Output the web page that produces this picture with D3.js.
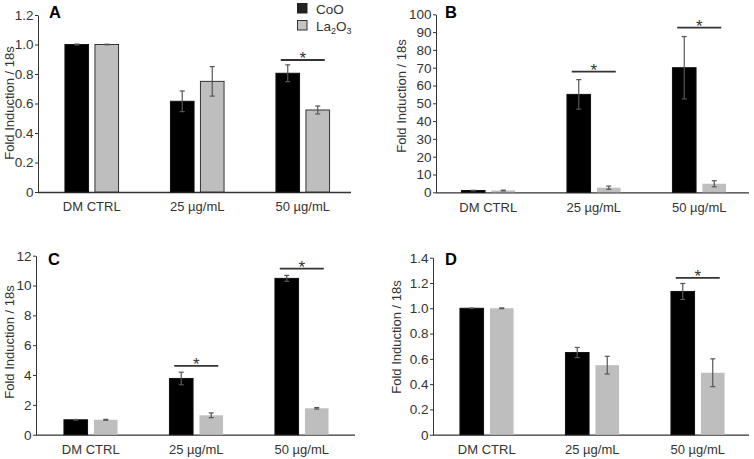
<!DOCTYPE html>
<html>
<head>
<meta charset="utf-8">
<script src="https://cdn.jsdelivr.net/npm/d3@7"></script>
<style>
  html, body { margin: 0; padding: 0; background: #fff; }
  svg { display: block; font-family: "Liberation Sans", Arial, sans-serif; }
</style>
</head>
<body>
<svg id="chart" width="754" height="459"></svg>
<script>
// ---------- data ----------
const categories = ["DM CTRL", "25 µg/mL", "50 µg/mL"];
const seriesNames = ["CoO", "La2O3"];

const A_CoO = [1.0, 0.615, 0.805];
const A_CoO_err = [0.003, 0.07, 0.057];
const A_La = [1.0, 0.75, 0.556];
const A_La_err = [0.002, 0.10, 0.027];
const A_ticks = [0, 0.2, 0.4, 0.6, 0.8, 1.0, 1.2];
const A_sig = [{ group: 2, y: 0.895 }];

const B_CoO = [1.0, 55, 70];
const B_CoO_err = [0.15, 8.3, 17.5];
const B_La = [1.0, 2.6, 4.8];
const B_La_err = [0.2, 0.9, 1.7];
const B_ticks = [0, 10, 20, 30, 40, 50, 60, 70, 80, 90, 100];
const B_sig = [{ group: 1, y: 67.8 }, { group: 2, y: 92.5 }];

const C_CoO = [1.0, 3.77, 10.48];
const C_CoO_err = [0.02, 0.42, 0.2];
const C_La = [1.0, 1.3, 1.77];
const C_La_err = [0.03, 0.16, 0.05];
const C_ticks = [0, 2, 4, 6, 8, 10, 12];
const C_sig = [{ group: 1, y: 4.62 }, { group: 2, y: 11.13 }];

const D_CoO = [1.0, 0.65, 1.133];
const D_CoO_err = [0.002, 0.04, 0.063];
const D_La = [1.0, 0.55, 0.49];
const D_La_err = [0.003, 0.07, 0.11];
const D_ticks = [0, 0.2, 0.4, 0.6, 0.8, 1.0, 1.2, 1.4];
const D_sig = [{ group: 2, y: 1.24 }];

// ---------- layout ----------
const panels = [
  { letter: "A", co: A_CoO, coErr: A_CoO_err, la: A_La, laErr: A_La_err, ticks: A_ticks, sig: A_sig,
    fmt: d => d === 0 ? "0" : d.toFixed(1), ax: 38, axEnd: 351, bandStart: 39, y0: 192, y1: 15,
    laStroke: true, labelX: 14, labelY: 103, letterX: 49, letterY: 18 },
  { letter: "B", co: B_CoO, coErr: B_CoO_err, la: B_La, laErr: B_La_err, ticks: B_ticks, sig: B_sig,
    fmt: d => String(d), ax: 436, axEnd: 749, bandStart: 435.5, y0: 192.3, y1: 14.3,
    laStroke: false, labelX: 406, labelY: 96, letterX: 445, letterY: 18 },
  { letter: "C", co: C_CoO, coErr: C_CoO_err, la: C_La, laErr: C_La_err, ticks: C_ticks, sig: C_sig,
    fmt: d => String(d), ax: 36, axEnd: 355, bandStart: 38, y0: 434.7, y1: 255.7,
    laStroke: false, labelX: 14, labelY: 342, letterX: 48, letterY: 265 },
  { letter: "D", co: D_CoO, coErr: D_CoO_err, la: D_La, laErr: D_La_err, ticks: D_ticks, sig: D_sig,
    fmt: d => d === 0 ? "0" : d.toFixed(1), ax: 433, axEnd: 749, bandStart: 434, y0: 434.7, y1: 257.7,
    laStroke: false, labelX: 401, labelY: 337, letterX: 445, letterY: 265 }
];

const svg = d3.select("#chart");
const textCol = "#333";
const coFill = "#000";
const laFill = "#bebebe";
const errCol = "#555";
const step = 105.5;
const fontFam = "'Liberation Sans', Arial, sans-serif";

panels.forEach(p => {
  const g = svg.append("g");
  const y = d3.scaleLinear().domain([0, d3.max(p.ticks)]).range([p.y0, p.y1]);
  const x = d3.scaleBand().domain(categories).range([p.bandStart, p.bandStart + step * 3]).padding(0);
  const inner = d3.scaleBand().domain(seriesNames).range([-26.8, 26.8]).paddingInner(0.2133).paddingOuter(0);

  // y axis
  const yAxis = d3.axisLeft(y).tickValues(p.ticks).tickFormat(p.fmt).tickSize(3).tickSizeOuter(0).tickPadding(1.5);
  const ya = g.append("g").attr("transform", `translate(${p.ax},0)`).call(yAxis);
  ya.select(".domain").attr("stroke", textCol).attr("stroke-width", 1);
  ya.selectAll(".tick line").attr("stroke", textCol);
  ya.selectAll(".tick text").attr("fill", textCol).style("font-size", "13.5px").style("font-family", fontFam);

  // x axis (no ticks)
  const xAxis = d3.axisBottom(x).tickSize(0).tickSizeOuter(0).tickPadding(10);
  const xa = g.append("g").attr("transform", `translate(0,${p.y0})`).call(xAxis);
  xa.select(".domain").attr("d", `M${p.ax},0.5H${p.axEnd}`).attr("stroke", textCol).attr("stroke-width", 1.3);
  xa.selectAll(".tick text").attr("fill", textCol).style("font-size", "13px")
    .style("font-family", fontFam).attr("dy", "0.71em");

  // bars
  const rows = [];
  categories.forEach((c, i) => {
    rows.push({ cat: c, s: "CoO", v: p.co[i], e: p.coErr[i] });
    rows.push({ cat: c, s: "La2O3", v: p.la[i], e: p.laErr[i] });
  });
  const bx = d => x(d.cat) + x.bandwidth() / 2 + inner(d.s);
  g.selectAll("rect.bar").data(rows).enter().append("rect")
    .attr("class", "bar")
    .attr("x", d => bx(d))
    .attr("width", inner.bandwidth())
    .attr("y", d => y(d.v))
    .attr("height", d => p.y0 - y(d.v))
    .attr("fill", d => d.s === "CoO" ? coFill : laFill)
    .attr("stroke", d => d.s === "CoO" ? "#111" : (p.laStroke ? "#333" : "none"))
    .attr("stroke-width", 1);

  // error bars
  const eg = g.selectAll("g.err").data(rows).enter().append("g").attr("class", "err");
  eg.append("line")
    .attr("x1", d => bx(d) + inner.bandwidth() / 2).attr("x2", d => bx(d) + inner.bandwidth() / 2)
    .attr("y1", d => y(d.v + d.e)).attr("y2", d => y(d.v - d.e))
    .attr("stroke", errCol).attr("stroke-width", 1.2);
  ["+", "-"].forEach(sgn => {
    eg.append("line")
      .attr("x1", d => bx(d) + inner.bandwidth() / 2 - 2.5).attr("x2", d => bx(d) + inner.bandwidth() / 2 + 2.5)
      .attr("y1", d => y(sgn === "+" ? d.v + d.e : d.v - d.e)).attr("y2", d => y(sgn === "+" ? d.v + d.e : d.v - d.e))
      .attr("stroke", errCol).attr("stroke-width", 1.2);
  });

  // significance
  p.sig.forEach(s => {
    const cx = x(categories[s.group]) + x.bandwidth() / 2;
    const ly = y(s.y);
    g.append("line").attr("x1", cx - 22).attr("x2", cx + 22).attr("y1", ly).attr("y2", ly)
      .attr("stroke", textCol).attr("stroke-width", 1.8);
    g.append("text").attr("x", cx).attr("y", ly + 4.5).attr("text-anchor", "middle")
      .attr("fill", textCol).style("font-size", "17px").text("*");
  });

  // y label
  g.append("text")
    .attr("transform", `translate(${p.labelX},${p.labelY}) rotate(-90)`)
    .attr("text-anchor", "middle").attr("fill", textCol).style("font-size", "13px")
    .style("font-family", fontFam)
    .text("Fold Induction / 18s");

  // panel letter
  g.append("text").attr("x", p.letterX).attr("y", p.letterY)
    .attr("fill", "#000").style("font-size", "16.5px").style("font-weight", "bold")
    .style("font-family", fontFam).text(p.letter);
});

// legend
const leg = svg.append("g");
leg.append("rect").attr("x", 297.5).attr("y", 3.5).attr("width", 9.5).attr("height", 9.5)
  .attr("fill", "#222").attr("stroke", "#222");
leg.append("text").attr("x", 316).attr("y", 13.5).attr("fill", textCol).style("font-size", "13.5px").text("CoO");
leg.append("rect").attr("x", 297.5).attr("y", 20.5).attr("width", 9.5).attr("height", 9.5)
  .attr("fill", "#c4c4c4").attr("stroke", "#333");
const lt = leg.append("text").attr("x", 316).attr("y", 30.5).attr("fill", textCol).style("font-size", "13.5px");
lt.append("tspan").text("La");
lt.append("tspan").attr("dy", 3).style("font-size", "9px").text("2");
lt.append("tspan").attr("dy", -3).text("O");
lt.append("tspan").attr("dy", 3).style("font-size", "9px").text("3");
</script>
</body>
</html>
